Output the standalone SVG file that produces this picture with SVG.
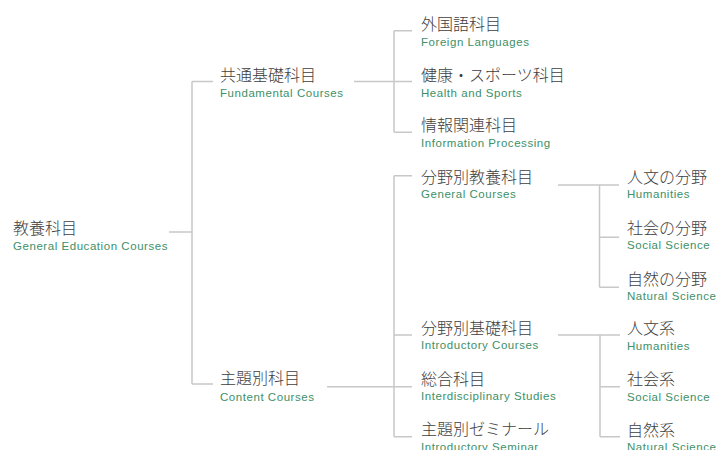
<svg xmlns="http://www.w3.org/2000/svg" width="716" height="450" viewBox="0 0 716 450">
<style>
.ja{font-family:"Noto Sans CJK JP","Noto Sans",sans-serif;font-size:16px;font-weight:300;fill:#404040}
.en{font-family:"Liberation Sans",Arial,sans-serif;font-size:11.5px;letter-spacing:0.55px;fill:#3d9068}
.ln{fill:none;stroke:#c8c8c8;stroke-width:1.5}
</style>
<rect width="716" height="450" fill="#ffffff"/>
<g id="connectors" class="ln">
<path d="M169 232H192M192 81.5V384M192 81.5H213M192 384H213"/>
<path d="M354 81.5H394M394 30.7V132.3M394 30.7H412M394 81.5H412M394 132.3H412"/>
<path d="M327 386.7H394M394 175.7V436.7M394 175.7H412M394 335H412M394 386.7H412M394 436.7H412"/>
<path d="M558 185H599.5M599.5 185V287.3M599.5 185H619M599.5 237.3H619M599.5 287.3H619"/>
<path d="M558 335H600M600 335V436.7M600 335H620M600 386.7H620M600 436.7H620"/>
</g>
<g id="n-root"><text class="ja" x="13" y="234">教養科目</text><text class="en" x="13" y="249.5">General Education Courses</text></g>
<g id="n-fundamental"><text class="ja" x="220" y="81">共通基礎科目</text><text class="en" x="220" y="97.3">Fundamental Courses</text></g>
<g id="n-content"><text class="ja" x="220" y="384">主題別科目</text><text class="en" x="220" y="400.7">Content Courses</text></g>
<g id="n-foreign"><text class="ja" x="421" y="29.5">外国語科目</text><text class="en" x="421" y="46">Foreign Languages</text></g>
<g id="n-health"><text class="ja" x="421" y="80.5">健康・スポーツ科目</text><text class="en" x="421" y="97">Health and Sports</text></g>
<g id="n-info"><text class="ja" x="421" y="131">情報関連科目</text><text class="en" x="421" y="147">Information Processing</text></g>
<g id="n-general"><text class="ja" x="421" y="183">分野別教養科目</text><text class="en" x="421" y="198.3">General Courses</text></g>
<g id="n-introductory"><text class="ja" x="421" y="333.5">分野別基礎科目</text><text class="en" x="421" y="349">Introductory Courses</text></g>
<g id="n-interdisciplinary"><text class="ja" x="421" y="384.5">総合科目</text><text class="en" x="421" y="400">Interdisciplinary Studies</text></g>
<g id="n-seminar"><text class="ja" x="421" y="435">主題別ゼミナール</text><text class="en" x="421" y="450.5">Introductory Seminar</text></g>
<g id="n-hum1"><text class="ja" x="627" y="183">人文の分野</text><text class="en" x="627" y="198.3">Humanities</text></g>
<g id="n-soc1"><text class="ja" x="627" y="233.5">社会の分野</text><text class="en" x="627" y="249">Social Science</text></g>
<g id="n-nat1"><text class="ja" x="627" y="284.5">自然の分野</text><text class="en" x="627" y="299.5">Natural Science</text></g>
<g id="n-hum2"><text class="ja" x="627" y="334">人文系</text><text class="en" x="627" y="350">Humanities</text></g>
<g id="n-soc2"><text class="ja" x="627" y="385">社会系</text><text class="en" x="627" y="400.5">Social Science</text></g>
<g id="n-nat2"><text class="ja" x="627" y="435.5">自然系</text><text class="en" x="627" y="450.5">Natural Science</text></g>
</svg>
